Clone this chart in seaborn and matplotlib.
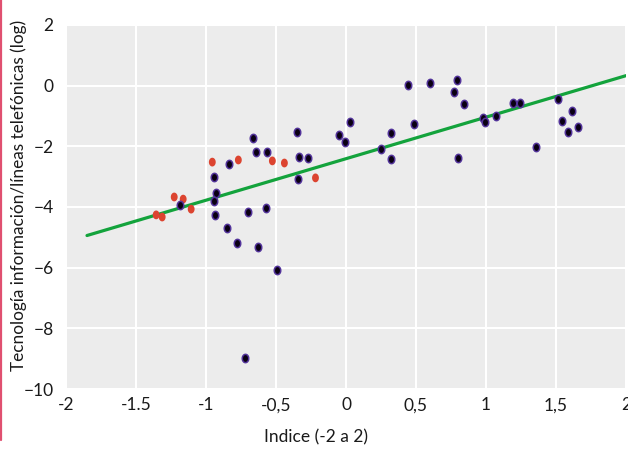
import matplotlib
matplotlib.use("Agg")
import matplotlib.pyplot as plt
from matplotlib.path import Path
from matplotlib.lines import Line2D
import numpy as np
import seaborn as sns

# Data -------------------------------------------------------------------------
dark_x = [-1.189, -0.946, -0.927, -0.943, -0.934, -0.834, -0.667, -0.645, -0.70, -0.848,
          -0.776, -0.571, -0.626, -0.492, -0.724, -0.564, -0.352, -0.335, -0.273, -0.342,
          -0.047, -0.006, 0.025, 0.247, 0.323, 0.318, 0.445, 0.483, 0.600, 0.796,
          0.774, 0.846, 0.803, 0.975, 0.993, 1.072, 1.191, 1.246, 1.358, 1.513,
          1.544, 1.616, 1.585, 1.657]
dark_y = [-3.93, -3.00, -3.55, -3.79, -4.26, -2.59, -1.73, -2.18, -4.18, -4.69,
          -5.19, -4.03, -5.31, -6.09, -8.98, -2.20, -1.52, -2.34, -2.37, -3.07,
          -1.63, -1.87, -1.19, -2.08, -2.41, -1.55, 0.01, -1.25, 0.09, 0.19,
          -0.22, -0.60, -2.37, -1.06, -1.19, -1.00, -0.57, -0.57, -2.02, -0.43,
          -1.16, -0.84, -1.52, -1.37]

red_x = [-1.356, -1.313, -1.227, -1.163, -1.106, -0.955, -0.769, -0.526, -0.44, -0.218]
red_y = [-4.26, -4.33, -3.67, -3.74, -4.07, -2.52, -2.45, -2.48, -2.55, -3.04]

fit_x = [-1.85, 2.0]
fit_y = [-4.94, 0.33]

x_ticks = [-2, -1.5, -1, -0.5, 0, 0.5, 1, 1.5, 2]
x_tick_labels = ['-2', '-1.5', '-1', '-0,5', '0', '0,5', '1', '1,5', '2']
y_ticks = [-10, -8, -6, -4, -2, 0, 2]

# Style ------------------------------------------------------------------------
sns.set_theme(style="darkgrid", rc={
    "axes.facecolor": "#ececec",
    "grid.color": "white",
    "grid.linewidth": 1.5,
})
plt.rcParams['font.family'] = ['Lato', 'DejaVu Sans']

# elliptical marker, a bit taller than wide
t = np.linspace(0, 2 * np.pi, 40)
ellipse = Path(np.column_stack([0.78 * np.cos(t), np.sin(t)]))

fig = plt.figure(figsize=(6.28, 4.49), dpi=100)
ax = fig.add_axes([66 / 628, 60 / 449, 560 / 628, 364 / 449])

sns.lineplot(x=fit_x, y=fit_y, ax=ax, color="#13a33c", linewidth=2.3, zorder=2)
sns.scatterplot(x=red_x, y=red_y, ax=ax, color="#dc4430", edgecolor="none",
                marker=ellipse, s=40, zorder=3)
sns.scatterplot(x=dark_x, y=dark_y, ax=ax, color="#0a0012", edgecolor="#52339a",
                linewidth=1.1, marker=ellipse, s=36, zorder=4)

ax.set_xlim(-2, 2)
ax.set_ylim(-10, 2)
ax.set_xticks(x_ticks)
ax.set_xticklabels(x_tick_labels)
ax.set_yticks(y_ticks)
ax.tick_params(axis='both', length=0, labelsize=12.5, labelcolor="#1a1a1a")
ax.tick_params(axis='x', pad=6)
ax.tick_params(axis='y', pad=9)
for s in ax.spines.values():
    s.set_visible(False)

ax.set_xlabel("Indice (-2 a 2)", fontsize=12.5, color="#1a1a1a")
ax.xaxis.set_label_coords((316 - 66) / 560, -(437 - 389) / 364)
ax.xaxis.label.set_va('center')
ax.set_ylabel("Tecnología información/líneas telefónicas (log)", fontsize=12.4,
              color="#1a1a1a")
ax.yaxis.set_label_coords(-(66 - 27) / 560, (389 - 195) / 364)

# pink bar on the left edge
fig.add_artist(Line2D([1.2 / 628, 1.2 / 628], [1.0, 9 / 449], transform=fig.transFigure,
                      color="#e05070", linewidth=1.6))

fig.savefig("out.png", dpi=100)
